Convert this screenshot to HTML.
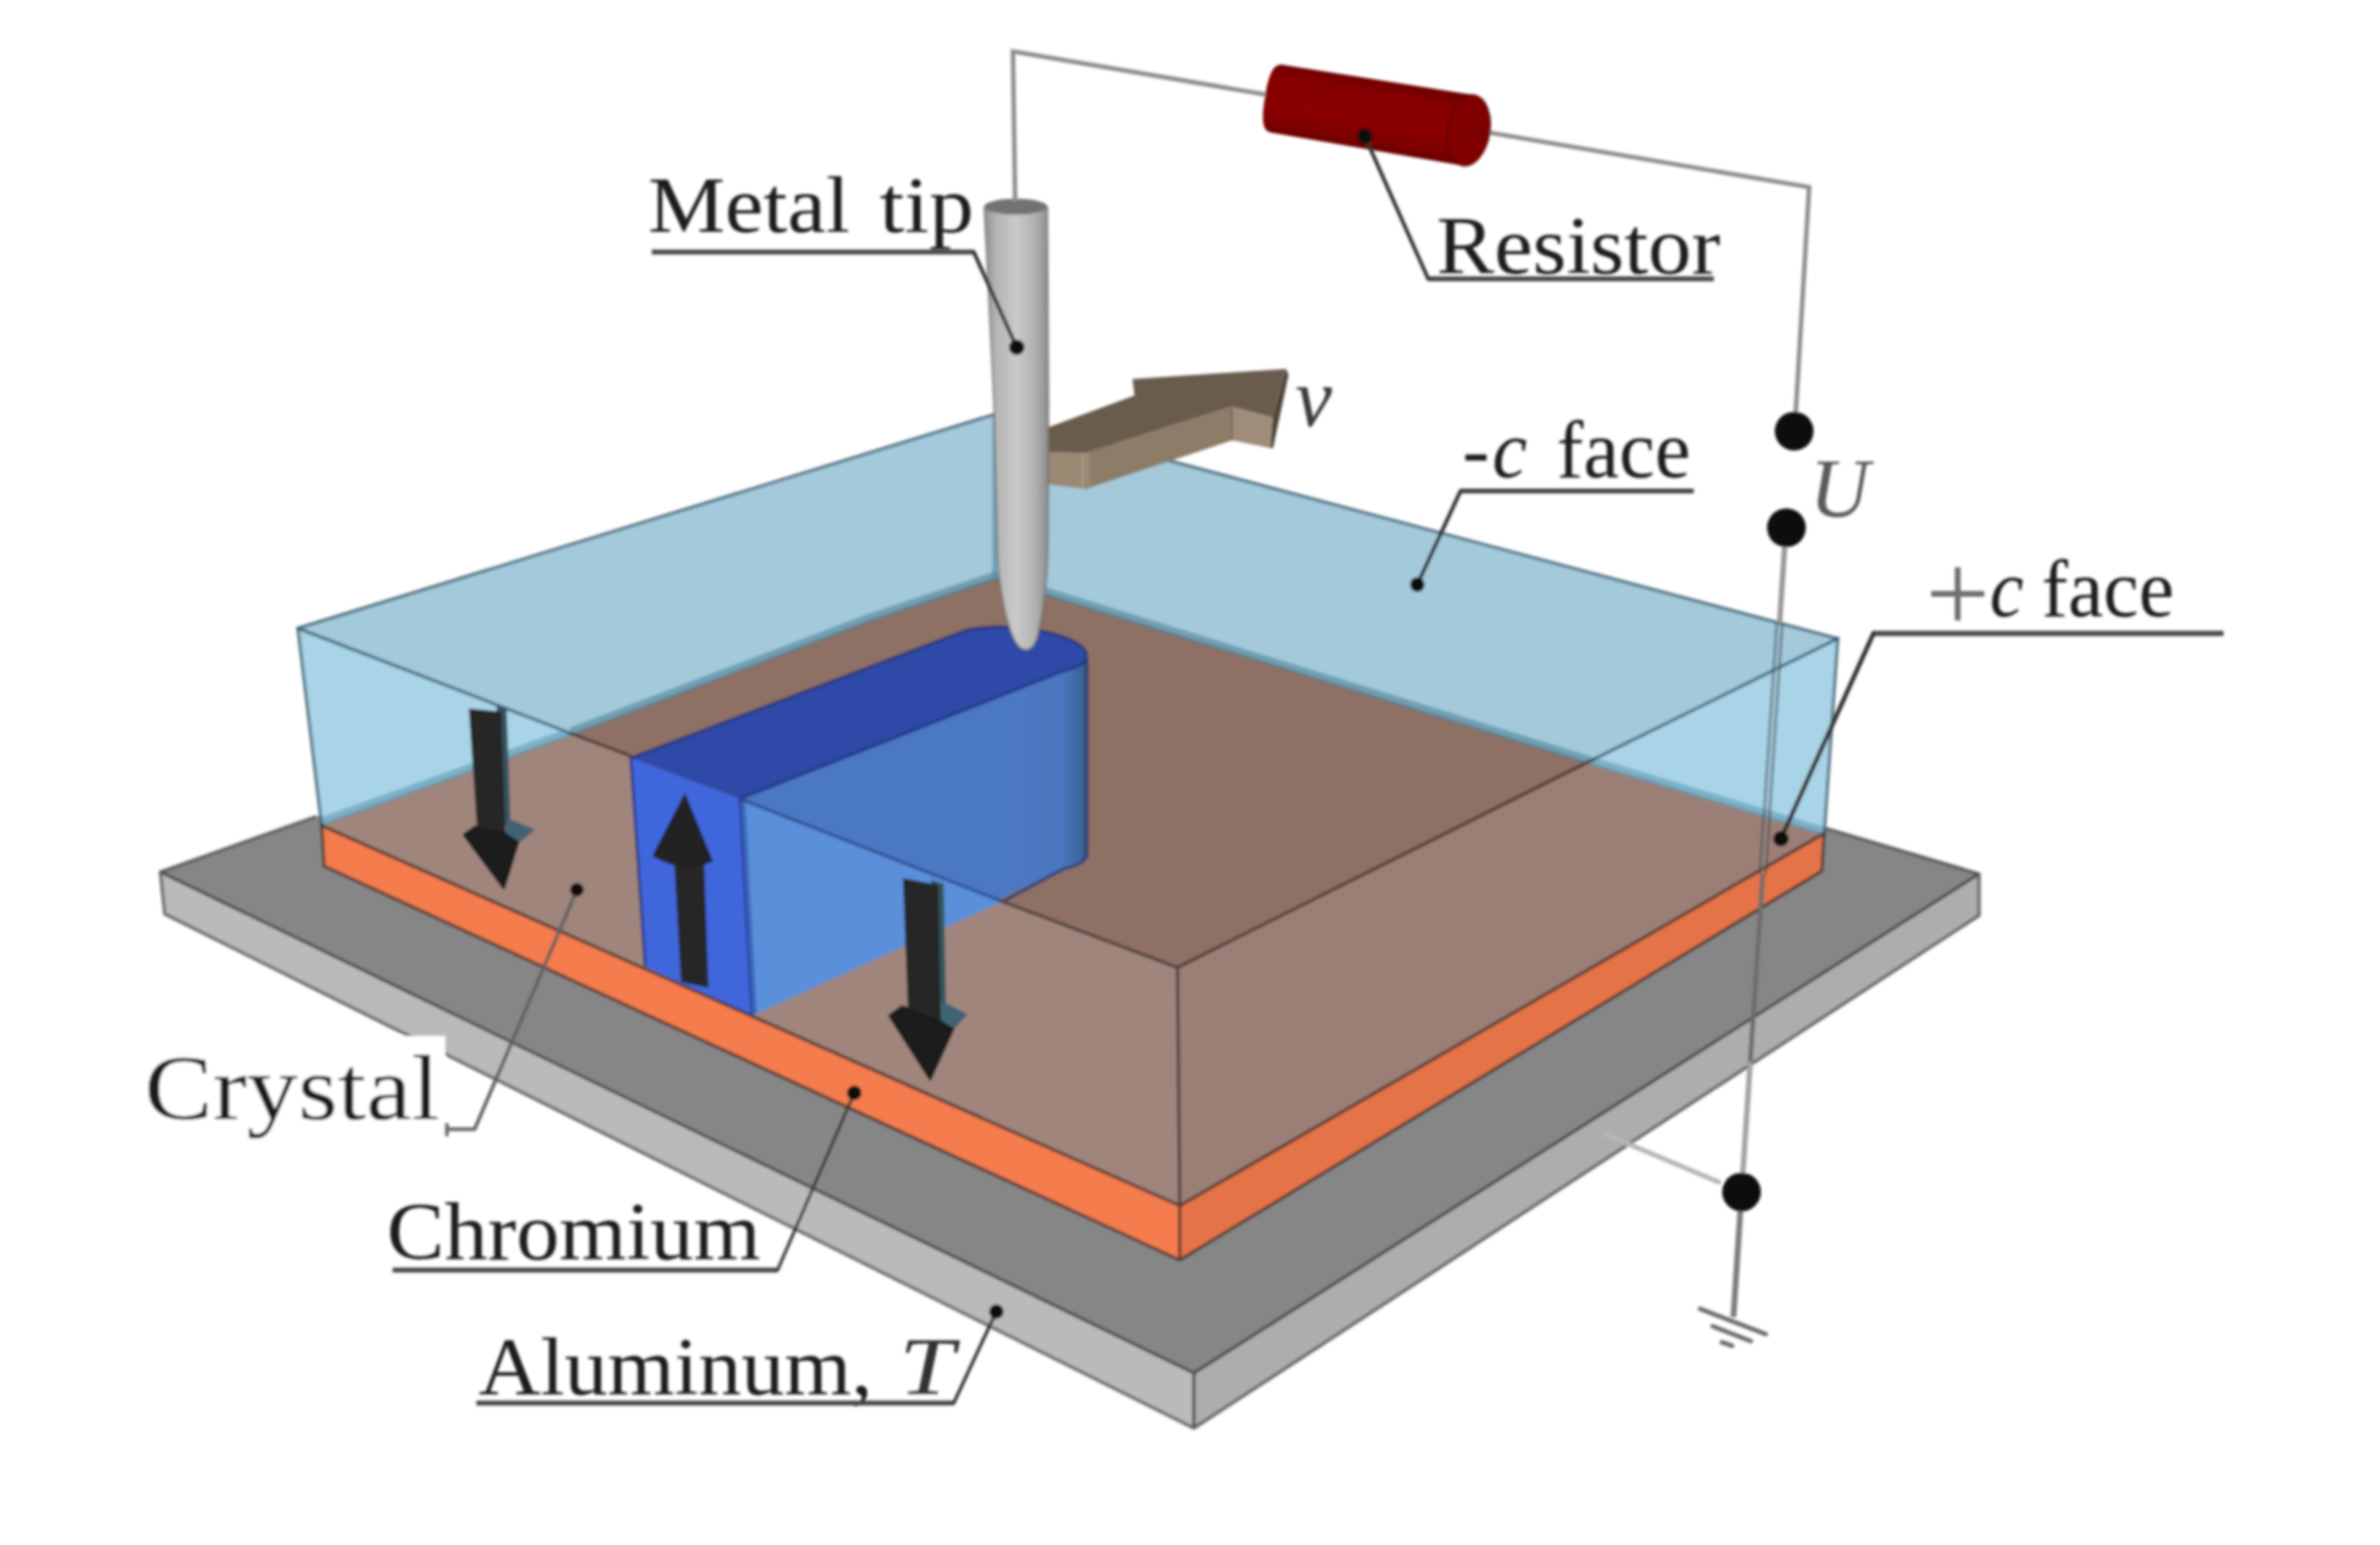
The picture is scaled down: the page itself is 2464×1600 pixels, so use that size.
<!DOCTYPE html>
<html lang="en">
<head>
<meta charset="utf-8">
<title>Domain writing setup</title>
<style>
html,body{margin:0;padding:0;background:#fff;}
body{width:2464px;height:1600px;overflow:hidden;}
svg{display:block;}
text{font-family:"Liberation Serif","DejaVu Serif",serif;fill:#1a1a1a;}
.it{font-style:italic;}
.ld{fill:none;stroke:#454545;stroke-width:5;stroke-linejoin:miter;}
.ldd{fill:none;stroke:#303030;stroke-width:3.9;stroke-linecap:round;}
.dot{fill:#0a0a0a;}
.edge{fill:none;stroke:#2e2420;stroke-opacity:.68;stroke-width:3.3;stroke-linejoin:round;stroke-linecap:round;}
.bedge{fill:none;stroke:#36596b;stroke-opacity:.8;stroke-width:3.3;stroke-linejoin:round;stroke-linecap:round;}
.wire{fill:none;stroke:#7a7a7a;stroke-width:3.4;stroke-linejoin:miter;}
</style>
</head>
<body>
<svg width="2464" height="1600" viewBox="0 0 2464 1600">
<defs>
  <clipPath id="cTop"><polygon points="308.4,650.6 1030,429 1902.7,661.3 1219,1002"/></clipPath>
  <clipPath id="cFR"><polygon points="1219,1002 1902.7,661.3 1888.6,863 1221.4,1248.6"/></clipPath>
  <clipPath id="cFL"><polygon points="308.4,650.6 1219,1002 1221.4,1248.6 333,855"/></clipPath>
  <linearGradient id="gTip" x1="0" y1="0" x2="1" y2="0">
    <stop offset="0" stop-color="#8c8c8c"/><stop offset=".18" stop-color="#b4b4b4"/>
    <stop offset=".5" stop-color="#c9c9c9"/><stop offset=".8" stop-color="#b0b0b0"/>
    <stop offset="1" stop-color="#8a8a8a"/>
  </linearGradient>
  <linearGradient id="gDom" gradientUnits="userSpaceOnUse" x1="1040" y1="0" x2="1126" y2="0">
    <stop offset="0" stop-color="#4b78c2"/><stop offset=".68" stop-color="#4a76be"/>
    <stop offset=".9" stop-color="#3f689f"/><stop offset="1" stop-color="#2f4f7a"/>
  </linearGradient>
  <linearGradient id="gRes" gradientUnits="userSpaceOnUse" x1="0" y1="-37" x2="0" y2="37">
    <stop offset="0" stop-color="#6a0000"/><stop offset=".18" stop-color="#840101"/><stop offset=".6" stop-color="#8b0202"/><stop offset=".88" stop-color="#7c0101"/><stop offset="1" stop-color="#640000"/>
  </linearGradient>
  <filter id="soft" x="-2%" y="-2%" width="104%" height="104%"><feGaussianBlur stdDeviation="1.7"/></filter>
</defs>
<rect width="2464" height="1600" fill="#ffffff"/>
<g filter="url(#soft)">

<!-- ALUMINUM PLATE -->
<g id="plate">
  <polygon points="166,903 1023,599 2049,905 1236,1422" fill="#868686"/>
  <polygon points="166,903 1236,1422 1236,1479 170.5,946.5" fill="#bababa"/>
  <polygon points="1236,1422 2049,905 2049,948 1236,1479" fill="#adadad"/>
  <path class="edge" d="M326,846 L166,903 L1236,1422 L2049,905 L1891,858 M166,903 L170.5,946.5 L1236,1479 L2049,948 L2049,905 M1236,1422 L1236,1479"/>
</g>

<!-- CHROMIUM -->
<g id="chromium">
  <polygon points="333,855 1221.4,1248.6 1221.4,1305 335.5,897" fill="#f47b4e"/>
  <polygon points="1221.4,1248.6 1888.6,863 1886.2,902 1221.4,1305" fill="#e47347"/>
  <path class="edge" d="M333,855 L335.5,897 L1221.4,1305 L1886.2,902 L1888.6,863 M1221.4,1248.6 L1221.4,1305"/>
</g>

<!-- CRYSTAL BODY -->
<g id="crystal">
  <!-- seen through front faces -->
  <polygon points="308.4,650.6 1030,429 1030,598 900,642 591,760 333,853" fill="#a9d3e6"/>
  <polygon points="1030,429 1902.7,661.3 1888.6,863 1647,790 1030,598" fill="#a9d3e6"/>
  <polygon points="333,853 591,760 900,642 1030,598 1647,790 1888.6,863 1221.4,1248.6" fill="#a0857c"/>
  <g clip-path="url(#cFR)">
    <polygon points="333,853 591,760 900,642 1030,598 1647,790 1888.6,863 1221.4,1248.6" fill="#9b7f76"/>
  </g>
  <path d="M333,851 L591,758 M1647,788 L1888.6,861" fill="none" stroke="#5b9bb5" stroke-width="9" stroke-opacity=".6"/>
  <!-- seen through the top face -->
  <g clip-path="url(#cTop)">
    <polygon points="308.4,650.6 1030,429 1030,598 900,642 591,760 333,853" fill="#a3c9db"/>
    <polygon points="1030,429 1902.7,661.3 1888.6,863 1647,790 1030,598" fill="#a3c9db"/>
    <polygon points="333,853 591,760 900,642 1030,598 1647,790 1888.6,863 1221.4,1248.6" fill="#8e6f65"/>
    <path d="M591,758 L900,640 L1030,596.5 L1647,788" fill="none" stroke="#4f8399" stroke-width="9" stroke-opacity=".6" stroke-linejoin="round"/>
    <path d="M1030,429 L1030,599" fill="none" stroke="#4f8399" stroke-width="5" stroke-opacity=".6"/>
  </g>
</g>

<!-- INVERTED DOMAIN -->
<g id="domain">
  <!-- long side wall + rounded end (seen through top face) -->
  <path d="M766,827.3 L1101.6,694.6 L1125,679 L1125,884 C1125,890 1118,896 1101.6,899.6 L778.5,1052 Z" fill="url(#gDom)"/>
  <!-- portion seen through the front-left face (lighter) -->
  <polygon points="766,827.3 1039,933 778.5,1052" fill="#5a8fd9"/>
  <!-- front (cut) face -->
  <polygon points="653,785 766,827.3 778.5,1052 668,1001" fill="#4166dc"/>
  <!-- top face -->
  <path d="M653,785 L1000.8,652.6 C1030.6,645.75 1077.3,649.6 1105.1,661.2 C1132.9,672.8 1131.4,687.75 1101.6,694.6 L766,827.3 Z" fill="#2f4aa8"/>
  <path d="M653,785 L1000.8,652.6 C1030.6,645.75 1077.3,649.6 1105.1,661.2 C1132.9,672.8 1131.4,687.75 1101.6,694.6 L766,827.3 M653,785 L668,1001 M766,827.3 L778.5,1052 M1125.5,682 L1125.5,884 C1125.5,890 1118,896 1101.6,899.6 L1039,933" fill="none" stroke="#1b2f74" stroke-opacity=".72" stroke-width="3.2" stroke-linejoin="round"/>
  <path d="M768.5,830 L780.5,1050" fill="none" stroke="#2f55b4" stroke-opacity=".7" stroke-width="6"/>
</g>
<!-- POLARISATION ARROWS -->
<g id="parrows">
  <!-- arrow 1 (down, left) -->
  <polygon points="514,730.5 524.5,733 528.5,852 519,858" fill="#36535f"/>
  <polygon points="526,847.5 554.3,858.9 535.5,874.5 522,868" fill="#3f6473"/>
  <polygon points="485.4,733.8 519,737 523.5,866 494,860" fill="#262626"/>
  <path d="M480.5,864.5 L492,856.5 L522,863 L536,872.5 L521.5,919.5 Z" fill="#1f1f1f" stroke="#1f1f1f" stroke-width="3" stroke-linejoin="round"/>
  <!-- arrow 2 (up, inside domain) -->
  <polygon points="698,893 729,893 733.5,1023 705,1017" fill="#272727"/>
  <path d="M709.1,821 L738.2,892 Q708,906 675.3,886.5 Z" fill="#232323"/>
  <!-- arrow 3 (down, right) -->
  <polygon points="964,911 977,915.5 979.5,1050 969,1058" fill="#36535f"/>
  <polygon points="974,1036 1001.7,1050.3 986.5,1067.5 971,1060" fill="#3f6473"/>
  <polygon points="934.8,909.5 971.5,916.5 974,1061 940,1047" fill="#262626"/>
  <path d="M921,1052 L934,1042.5 L972,1057 L986.5,1066 L963,1117.5 Z" fill="#1f1f1f" stroke="#1f1f1f" stroke-width="3" stroke-linejoin="round"/>
</g>
<!-- CRYSTAL EDGES -->
<g id="cedges">
  <path class="bedge" d="M308.4,650.6 L1030,429 L1902.7,661.3 L1888.6,863 M308.4,650.6 L333,855"/>
  <path class="bedge" d="M308.4,650.6 L591,759.5 M1902.7,661.3 L1650,786.3"/>
  <path class="edge" d="M591,759.5 L653,783 M1036,933 L1219,1002 L1650,786.3 M1219,1002 L1221.4,1248.6 M333,855 L1221.4,1248.6 L1888.6,863"/>
  <path d="M766,827.3 L1036,933" fill="none" stroke="#1d2f6e" stroke-opacity=".6" stroke-width="3.2"/>
</g>
<!-- VELOCITY ARROW -->
<g id="varrow">
  <!-- side faces -->
  <polygon points="1080,468 1124,469 1124,506.5 1080,501" fill="#9a8873"/>
  <polygon points="1124,469 1275.5,421 1275.5,456 1124,506.5" fill="#8c7b68"/>
  <polygon points="1275.5,421 1317.6,432.6 1315,464 1275.5,456" fill="#a08d79"/>
  <polygon points="1331.3,382 1334,388 1318,464 1315,464 1317.6,432.6" fill="#4f4337"/>
  <!-- top face -->
  <polygon points="1080,444.5 1174.6,409.4 1172.5,392.6 1331.3,382 1317.6,432.6 1275.5,421 1124,469 1080,468" fill="#6a5c4e"/>
  <path d="M1124,469 L1124,506.5 M1275.5,421 L1275.5,456" fill="none" stroke="#4a3f35" stroke-opacity=".5" stroke-width="2"/>
  <rect x="1119" y="469" width="9" height="37" fill="#b09d88" opacity=".55"/>
</g>

<!-- METAL TIP -->
<g id="tip">
  <path d="M1019,214 L1084.4,214 L1085.5,416 L1085,560 C1084.5,600 1081,632 1074.5,658 C1072,668 1067,673 1062.5,673 C1057,673 1052,668 1048,658 C1040,638 1034.5,606 1033,580 L1029,416 Z" fill="url(#gTip)"/>
  <ellipse cx="1051.7" cy="214" rx="32.6" ry="8.3" fill="#727272"/>
  <path d="M1019,214 L1029,416 L1033,580 C1034.5,606 1040,638 1048,658 C1052,668 1057,673 1062.5,673 C1067,673 1072,668 1074.5,658 C1081,632 1084.5,600 1085,560 L1085.5,416 L1084.4,214" fill="none" stroke="#6e6e6e" stroke-opacity=".55" stroke-width="2.4"/>
</g>
<!-- CIRCUIT -->
<g id="circuit">
  <path class="wire" d="M1051,209 L1048.7,53.3 L1873,193.8 L1858,446" style="stroke:#8c8c8c;stroke-width:4.6"/>
  <path class="wire" d="M1849,546 L1842.4,645" style="stroke:#969696;stroke-width:5.4"/>
  <path d="M1842.4,645 L1825,905" fill="none" stroke="#7a8a90" stroke-opacity=".28" stroke-width="6"/>
  <path d="M1839.2,645 L1821.8,905 M1845.6,645 L1828.2,905" fill="none" stroke="#26343a" stroke-opacity=".6" stroke-width="1.9"/>
  <path class="wire" d="M1825,905 L1812,1100" style="stroke:#6c6c6c;stroke-width:4.8"/>
  <path class="wire" d="M1812,1100 L1803,1235" style="stroke:#a2a2a2;stroke-width:5.6"/>
  <path class="wire" d="M1803,1235 L1794.6,1364" style="stroke:#7c7c7c;stroke-width:6"/>
  <path d="M1781.4,1225 L1661.8,1174.5" fill="none" stroke="#b6b6b6" stroke-width="5"/>
  <!-- resistor -->
  <g transform="translate(1313.6,100.8) rotate(9.4)">
    <path d="M8,-35.5 L209.6,-37 A22,37 0 0 1 209.6,37 L8,35.5 C-1,35.5 -4,24 -4,0 C-4,-24 -1,-35.5 8,-35.5 Z" fill="url(#gRes)"/>
    <ellipse cx="209.6" cy="0" rx="22" ry="37" fill="#800202" stroke="#4d0000" stroke-opacity=".55" stroke-width="2"/>
    <path d="M209.6,0 L228,0" stroke="#5e0a0a" stroke-width="2.2" fill="none"/>
  </g>
  <!-- terminals -->
  <circle class="dot" cx="1857.5" cy="446.5" r="20"/>
  <circle class="dot" cx="1849.5" cy="546.5" r="20"/>
  <circle class="dot" cx="1803" cy="1234.4" r="20"/>
  <!-- ground -->
  <path d="M1760,1355.4 L1828,1381.7 M1773,1373.4 L1812.6,1388.9 M1782.6,1390 L1793.4,1393.7" fill="none" stroke="#6c6c6c" stroke-width="4.6" stroke-linecap="round"/>
</g>
<!-- LABELS -->
<g id="labels">
  <!-- Metal tip -->
  <text y="240" font-size="82.5"><tspan x="670.9" textLength="209" lengthAdjust="spacingAndGlyphs">Metal</tspan> <tspan x="910.6" textLength="97.6" lengthAdjust="spacingAndGlyphs">tip</tspan></text>
  <path class="ld" d="M674.8,261.1 L1008.2,261.1"/>
  <path class="ldd" d="M1008.2,261.1 L1052.6,359.7"/>
  <circle class="dot" cx="1052.6" cy="359.7" r="8"/>

  <!-- Resistor -->
  <text x="1487.3" y="283" font-size="85.5" textLength="293.7" lengthAdjust="spacingAndGlyphs">Resistor</text>
  <path class="ld" d="M1774.3,288.8 L1478.6,288.8"/>
  <path class="ldd" d="M1478.6,288.8 L1412.9,140.9"/>
  <circle class="dot" cx="1412.9" cy="140.9" r="8"/>

  <!-- v -->
  <text class="it" x="1341" y="441" font-size="86" textLength="38" lengthAdjust="spacingAndGlyphs" style="fill:#3a3a3a">v</text>

  <!-- -c face -->
  <text y="494" font-size="85"><tspan x="1514" textLength="28" lengthAdjust="spacingAndGlyphs">-</tspan><tspan class="it" x="1545" textLength="36" lengthAdjust="spacingAndGlyphs">c</tspan> <tspan x="1611.5" textLength="138.8" lengthAdjust="spacingAndGlyphs">face</tspan></text>
  <path class="ld" d="M1753.5,508.6 L1512,508.6"/>
  <path class="ldd" d="M1512,508.6 L1467.3,605.4"/>
  <circle class="dot" cx="1467.3" cy="605.4" r="7.6"/>

  <!-- U -->
  <text class="it" x="1873.5" y="534.5" font-size="86" textLength="62" lengthAdjust="spacingAndGlyphs" style="fill:#5a5a5a">U</text>

  <!-- +c face -->
  <text y="637.6" font-size="85"><tspan x="1993.6" dy="17.3" font-size="118" style="fill:#6e6e6e">+</tspan><tspan class="it" x="2060" dy="-17.3" textLength="35" lengthAdjust="spacingAndGlyphs">c</tspan> <tspan x="2113.6" textLength="137.2" lengthAdjust="spacingAndGlyphs">face</tspan></text>
  <path class="ld" d="M2302,656 L1939.6,656" style="stroke:#4c4c4c;stroke-width:5.6"/>
  <path class="ldd" d="M1939.6,656 L1843.8,868.6" style="stroke-width:4.6"/>
  <circle class="dot" cx="1843.8" cy="868.6" r="8"/>

  <!-- Crystal -->
  <rect x="140" y="1072.8" width="321" height="120" fill="#ffffff"/>
  <text x="149.5" y="1159" font-size="96" textLength="306" lengthAdjust="spacingAndGlyphs">Crystal</text>
  <path class="ld" d="M462.5,1163 L462.5,1177 M461.4,1169.4 L491.4,1169.4 L597.3,921.4" style="stroke:#626262;stroke-width:3.8"/>
  <circle class="dot" cx="597.3" cy="921.4" r="7"/>

  <!-- Chromium -->
  <text x="400.6" y="1304.4" font-size="85" textLength="386.8" lengthAdjust="spacingAndGlyphs">Chromium</text>
  <path class="ld" d="M406.5,1315.3 L805,1315.3"/>
  <path class="ldd" d="M805,1315.3 L884.4,1131.8" style="stroke-width:3.3;stroke:#3a3a3a"/>
  <circle class="dot" cx="884.4" cy="1131.8" r="7.5"/>

  <!-- Aluminum, T -->
  <text y="1444" font-size="85"><tspan x="495.5" textLength="408" lengthAdjust="spacingAndGlyphs">Aluminum,</tspan> <tspan class="it" x="931" textLength="57" lengthAdjust="spacingAndGlyphs" style="fill:#333">T</tspan></text>
  <path class="ld" d="M493.2,1453 L987.4,1453"/>
  <path class="ldd" d="M987.4,1453 L1031.5,1358.2" style="stroke-width:3.4"/>
  <circle class="dot" cx="1031.5" cy="1358.2" r="7.5"/>
</g>

</g>
</svg>
</body>
</html>
